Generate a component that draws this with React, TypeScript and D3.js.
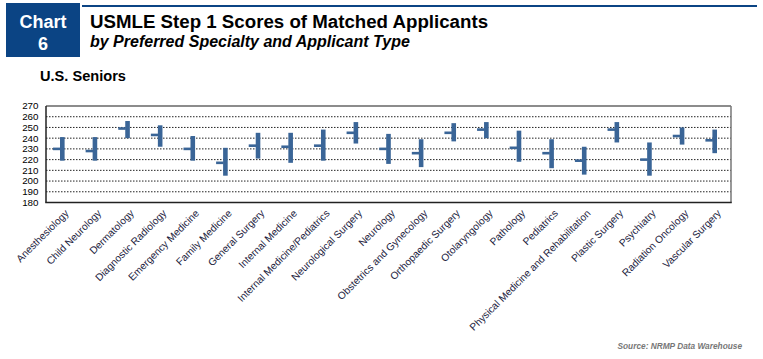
import React from "react";
import * as d3 from "d3";

const categories = [
  "Anesthesiology",
  "Child Neurology",
  "Dermatology",
  "Diagnostic Radiology",
  "Emergency Medicine",
  "Family Medicine",
  "General Surgery",
  "Internal Medicine",
  "Internal Medicine/Pediatrics",
  "Neurological Surgery",
  "Neurology",
  "Obstetrics and Gynecology",
  "Orthopaedic Surgery",
  "Otolaryngology",
  "Pathology",
  "Pediatrics",
  "Physical Medicine and Rehabilitation",
  "Plastic Surgery",
  "Psychiatry",
  "Radiation Oncology",
  "Vascular Surgery",
];
const highValues = [241, 241, 256, 252, 242, 231, 245, 245, 248, 255, 244, 239, 254, 255, 247, 239, 232, 255, 236, 250, 248];
const lowValues = [219, 219, 240, 232, 219, 205, 221, 217, 219, 235, 216, 213, 237, 240, 218, 212, 206, 236, 205, 234, 226];
const midValues = [230, 228, 249, 243, 230, 217, 233, 232, 233, 245, 230, 226, 245, 248, 231, 226, 219, 248, 220, 242, 238];
const yTicks = [180, 190, 200, 210, 220, 230, 240, 250, 260, 270];

const W = 763;
const H = 359;
const plot = { left: 46, right: 731, top: 106, bottom: 202.5 };
const barColor = "#3a6597";
const navy = "#0b4484";

export default function App() {
  const x = d3
    .scaleBand<string>()
    .domain(categories)
    .range([plot.left, plot.right])
    .paddingInner(0)
    .paddingOuter(0);
  const y = d3.scaleLinear().domain([180, 270]).range([plot.bottom, plot.top]);
  const font = "Arial, 'Liberation Sans', Helvetica, sans-serif";

  return (
    <svg
      width={W}
      height={H}
      style={{ position: "absolute", left: 0, top: 0, background: "#fff" }}
      fontFamily={font}
    >
      {/* header */}
      <rect x={6} y={3} width={74} height={54} fill={navy} />
      <text x={43} y={28} fill="#fff" fontSize={18} fontWeight="bold" textAnchor="middle">
        Chart
      </text>
      <text x={43} y={50} fill="#fff" fontSize={18} fontWeight="bold" textAnchor="middle">
        6
      </text>
      <rect x={82} y={5} width={675} height={2} fill={navy} />
      <text x={90} y={28} fontSize={18.7} fontWeight="bold" fill="#000">
        USMLE Step 1 Scores of Matched Applicants
      </text>
      <text x={90} y={47} fontSize={16} fontWeight="bold" fontStyle="italic" fill="#000">
        by Preferred Specialty and Applicant Type
      </text>
      <text x={40} y={81} fontSize={14.6} fontWeight="bold" fill="#000">
        U.S. Seniors
      </text>

      {/* gridlines */}
      {yTicks
        .filter((t) => t > 180 && t < 270)
        .map((t) => (
          <line
            key={t}
            x1={plot.left}
            x2={plot.right}
            y1={y(t)}
            y2={y(t)}
            stroke="#222"
            strokeWidth={1}
            strokeDasharray="1.5,1.5"
          />
        ))}

      {/* plot border */}
      <line x1={plot.left} x2={plot.right} y1={plot.top} y2={plot.top} stroke="#666" strokeWidth={1.5} />
      <line x1={plot.right} x2={plot.right} y1={plot.top} y2={plot.bottom} stroke="#777" strokeWidth={1.5} />
      <line x1={plot.left} x2={plot.left} y1={plot.top} y2={plot.bottom} stroke="#222" strokeWidth={1.5} />
      <line x1={plot.left - 0.75} x2={plot.right + 0.75} y1={plot.bottom} y2={plot.bottom} stroke="#222" strokeWidth={1.5} />

      {/* y tick labels */}
      {yTicks.map((t) => (
        <text key={t} x={38.5} y={y(t) + 3.4} fontSize={9.8} textAnchor="end" fill="#000">
          {t}
        </text>
      ))}

      {/* marks */}
      {categories.map((c, i) => {
        const cx = (x(c) as number) + x.bandwidth() / 2;
        return (
          <g key={c}>
            <rect
              x={cx - 2.3}
              y={y(highValues[i])}
              width={4.6}
              height={y(lowValues[i]) - y(highValues[i])}
              fill={barColor}
            />
            <rect x={cx - 9.3} y={y(midValues[i]) - 1.3} width={7.5} height={2.6} fill={barColor} />
          </g>
        );
      })}

      {/* category labels */}
      {categories.map((c) => {
        const cx = (x(c) as number) + x.bandwidth() / 2;
        const ax = cx + 7;
        const ay = 214;
        return (
          <text
            key={c}
            x={ax}
            y={ay}
            fontSize={10.2}
            textAnchor="end"
            fill="#1c1c40"
            transform={`rotate(-45 ${ax} ${ay})`}
          >
            {c}
          </text>
        );
      })}

      <text
        x={742}
        y={349}
        fontSize={8.3}
        fontWeight="bold"
        fontStyle="italic"
        textAnchor="end"
        fill="#777"
      >
        Source: NRMP Data Warehouse
      </text>
    </svg>
  );
}
